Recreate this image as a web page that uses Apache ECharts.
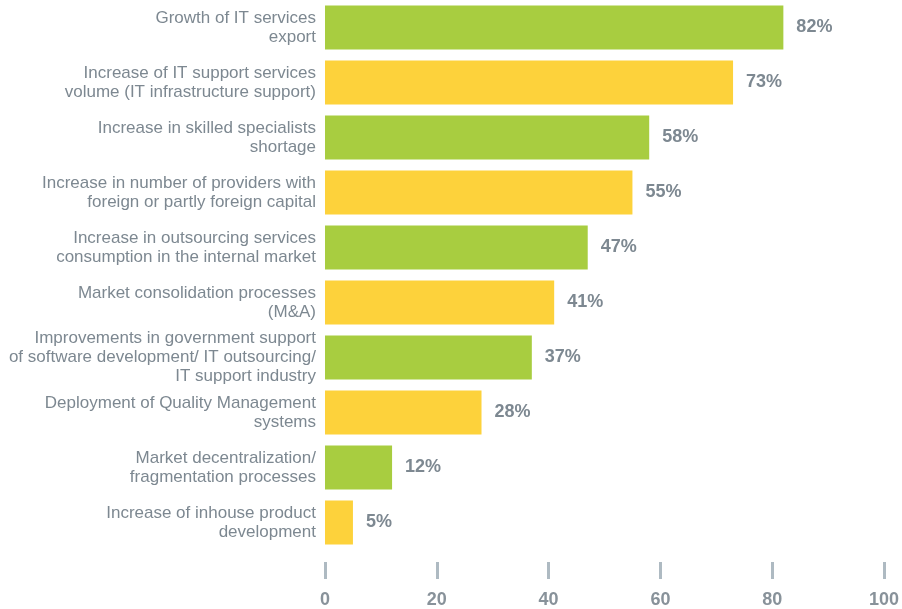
<!DOCTYPE html>
<html>
<head>
<meta charset="utf-8">
<script src="https://cdn.jsdelivr.net/npm/echarts@6/dist/echarts.min.js"></script>
<style>
  html, body { margin: 0; padding: 0; background: #fff; }
  #chart { width: 902px; height: 609px; }
</style>
</head>
<body>
<div id="chart"></div>
<script>
const categories = [
  "Growth of IT services\nexport",
  "Increase of IT support services\nvolume (IT infrastructure support)",
  "Increase in skilled specialists\nshortage",
  "Increase in number of providers with\nforeign or partly foreign capital",
  "Increase in outsourcing services\nconsumption in the internal market",
  "Market consolidation processes\n(M&A)",
  "Improvements in government support\nof software development/ IT outsourcing/\nIT support industry",
  "Deployment of Quality Management\nsystems",
  "Market decentralization/\nfragmentation processes",
  "Increase of inhouse product\ndevelopment"
]
const values = [82, 73, 58, 55, 47, 41, 37, 28, 12, 5]
const barColors = ["#A8CD40", "#FDD23B"]
const tickValues = [0, 20, 40, 60, 80, 100]

const textGray = "#7D8891"

const myChart = echarts.init(document.getElementById("chart"))

const option = {
  animation: false,
  grid: {
    left: 325,
    right: 16,
    top: 0,
    height: 551,
    containLabel: false
  },
  xAxis: {
    type: "value",
    min: tickValues[0],
    max: tickValues[tickValues.length - 1],
    interval: 20,
    offset: 12,
    axisLine: { show: false },
    axisTick: {
      show: true,
      length: 17,
      lineStyle: { color: "#AEBAC2", width: 3 }
    },
    axisLabel: {
      margin: 29,
      color: "#88929A",
      fontSize: 18,
      fontWeight: "bold",
      fontFamily: "Liberation Sans"
    },
    splitLine: { show: false }
  },
  yAxis: {
    type: "category",
    inverse: true,
    data: categories,
    axisLine: { show: false },
    axisTick: { show: false },
    axisLabel: {
      margin: 9,
      color: textGray,
      fontSize: 17,
      lineHeight: 19,
      fontFamily: "Liberation Sans",
      align: "right"
    }
  },
  series: [
    {
      type: "bar",
      barWidth: 44,
      data: values.map((v, i) => ({
        value: v,
        itemStyle: { color: barColors[i % 2] }
      })),
      label: {
        show: true,
        position: "right",
        distance: 13,
        formatter: "{c}%",
        color: textGray,
        fontSize: 18,
        fontWeight: "bold",
        fontFamily: "Liberation Sans"
      }
    }
  ]
}

myChart.setOption(option)
window.addEventListener("resize", () => {
  myChart.resize()
})
</script>
</body>
</html>
